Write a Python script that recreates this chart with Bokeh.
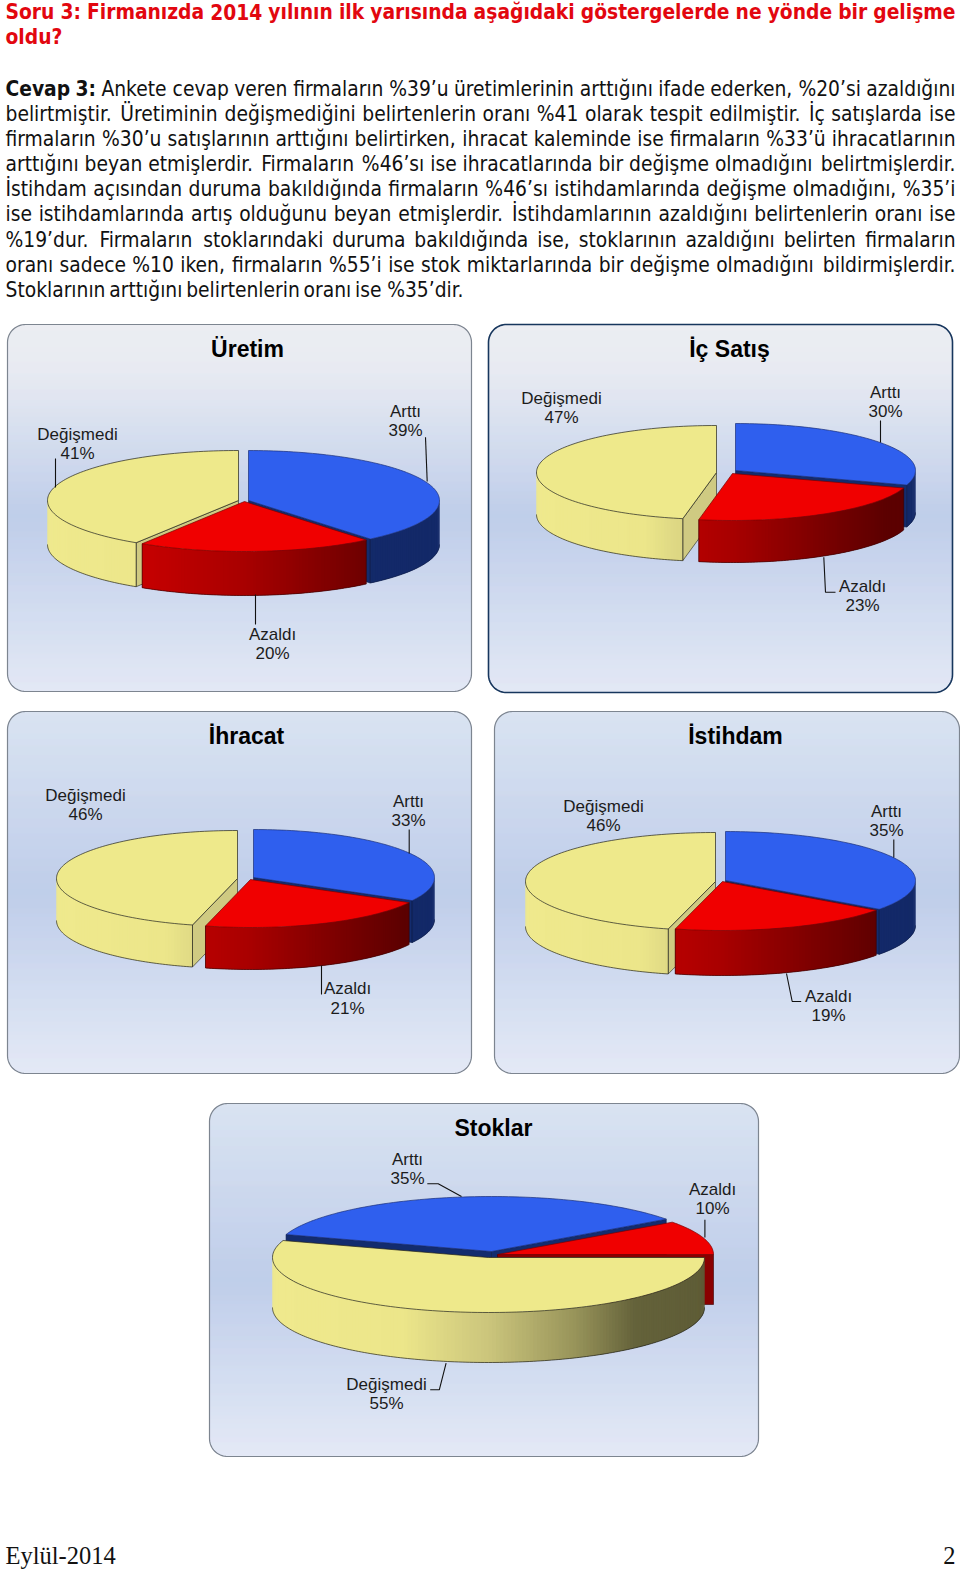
import math
from bokeh.plotting import figure
from bokeh.models import Range1d
from bokeh.core.properties import value
from bokeh.embed import file_html
from bokeh.resources import INLINE

# ---------- DATA ----------
categories = ["Arttı", "Azaldı", "Değişmedi"]
titles = ["Üretim", "İç Satış", "İhracat", "İstihdam", "Stoklar"]
uretim_values = [39, 20, 41]
ic_satis_values = [30, 23, 47]
ihracat_values = [33, 21, 46]
istihdam_values = [35, 19, 46]
stoklar_values = [35, 10, 55]
series_values = [uretim_values, ic_satis_values, ihracat_values, istihdam_values, stoklar_values]

heading_lines = [
    "Soru 3: Firmanızda 2014 yılının ilk yarısında aşağıdaki göstergelerde ne yönde bir gelişme",
    "oldu?",
]
body_lines = [
    "Cevap 3: Ankete cevap veren firmaların %39’u üretimlerinin arttığını ifade ederken, %20’si azaldığını",
    "belirtmiştir. Üretiminin değişmediğini belirtenlerin oranı %41 olarak tespit edilmiştir. İç satışlarda ise",
    "firmaların %30’u satışlarının arttığını belirtirken, ihracat kaleminde ise firmaların %33’ü ihracatlarının",
    "arttığını beyan etmişlerdir. Firmaların %46’sı ise ihracatlarında bir değişme olmadığını belirtmişlerdir.",
    "İstihdam açısından duruma bakıldığında firmaların %46’sı istihdamlarında değişme olmadığını, %35’i",
    "ise istihdamlarında artış olduğunu beyan etmişlerdir. İstihdamlarının azaldığını belirtenlerin oranı ise",
    "%19’dur. Firmaların stoklarındaki duruma bakıldığında ise, stoklarının azaldığını belirten firmaların",
    "oranı sadece %10 iken, firmaların %55’i ise stok miktarlarında bir değişme olmadığını bildirmişlerdir.",
    "Stoklarının arttığını belirtenlerin oranı ise %35’dir.",
]
footer_left = "Eylül-2014"
footer_right = "2"

# ---------- LAYOUT ----------
# panel: x0, x1, y0, y1, border colour, border width, gradient kind
panels = [
    (7, 471, 324, 691, "#7d8590", 1.2, "A"),
    (488, 952, 324, 692, "#17365d", 1.6, "A"),
    (7, 471, 711, 1073, "#7d8590", 1.2, "B"),
    (494, 959, 711, 1073, "#7d8590", 1.2, "B"),
    (209, 758, 1103, 1456, "#7d8590", 1.2, "B"),
]
title_pos = [(247, 357), (729, 357), (246, 744), (735, 744), (493, 1136)]
# pie: rx, ry, depth, start angle; slice centres in category order
pies = [
    (191, 50, 44, 0, [(248, 500), (244, 501), (238, 500)]),
    (180, 47, 42, 0, [(735, 470), (732, 473), (716, 472)]),
    (181, 48, 42, 0, [(253, 877), (250, 879), (237, 878)]),
    (190, 49, 45, 0, [(725, 880), (722, 881), (715, 881)]),
    (216, 55, 50, 288, [(491, 1251), (497, 1254), (488, 1257)]),
]
# label centre x, first line baseline, second line baseline
label_pos = [
    [(405, 417, 436), (272, 640, 659), (77, 440, 459)],
    [(885, 398, 417), (862, 592, 611), (561, 404, 423)],
    [(408, 807, 826), (347, 994, 1014), (85, 801, 820)],
    [(886, 817, 836), (828, 1002, 1021), (603, 812, 831)],
    [(407, 1165, 1184), (712, 1195, 1214), (386, 1390, 1409)],
]
leaders = [
    [[(425, 436.7), (426.7, 481)], [(255, 594), (255, 624)], [(55, 458), (55, 487)]],
    [[(880, 420), (880, 442)], [(823.3, 556.7), (825, 591.7), (835, 591.7)]],
    [[(408.7, 829), (408.7, 853)], [(321, 965), (321, 994)]],
    [[(893.3, 839), (893.3, 857)], [(786, 973), (791.7, 1001), (800.7, 1001)]],
    [[(426.8, 1183.3), (437.7, 1183.3), (461, 1196)], [(704.4, 1219.3), (704.4, 1237)],
     [(445.6, 1362.7), (438.8, 1389.3), (429.7, 1389.3)]],
]

top_colors = ["#2f5fee", "#f00000", "#eee98b"]
top_edges = ["#1b2f78", "#7a0000", "#23231a"]
wall_edges = ["#0e1c48", "#3d0000", "#23231a"]
radial_colors = ["#132c6e", "#8a0000", "#cfca82"]
wall_stops = [
    [(-1, "#132c6e"), (1, "#132968")],
    [(-1, "#d40000"), (-.5, "#c40000"), (0, "#a80000"), (.5, "#7a0000"), (.85, "#5c0000"), (1, "#5c0000")],
    [(-1, "#efe98d"), (-.4, "#ece68a"), (0, "#cbc57c"), (.4, "#98945a"), (.68, "#64623a"), (1, "#5e5c36")],
]
grad_stops = {
    "A": [(0, "#eaecf1"), (.12, "#e6e9f1"), (.52, "#b9c9e8"), (1, "#e0e6f4")],
    "B": [(0, "#d6e0f0"), (.5, "#b9c9e8"), (1, "#e1e7f5")],
}

# ---------- HELPERS ----------
def rgb(h):
    return tuple(int(h[i:i + 2], 16) for i in (1, 3, 5))

def interp(stops, u):
    u = max(stops[0][0], min(stops[-1][0], u))
    for (a, ca), (b, cb) in zip(stops, stops[1:]):
        if a <= u <= b:
            f = (u - a) / (b - a) if b > a else 0
            A, B = rgb(ca), rgb(cb)
            return "#%02x%02x%02x" % tuple(round(A[i] + (B[i] - A[i]) * f) for i in range(3))
    return stops[-1][1]

REG = dict(zip("abcdefghijklmnopqrstuvwxyz",
    [1255,1300,1126,1300,1260,721,1300,1298,569,569,1186,569,1995,1298,1253,1300,1300,842,1067,803,1298,1212,1675,1212,1212,1075]))
BLD = dict(zip("abcdefghijklmnopqrstuvwxyz",
    [1382,1466,1214,1466,1389,891,1466,1458,702,702,1361,702,2134,1458,1407,1466,1466,1010,1219,979,1458,1335,1892,1321,1335,1192]))
REG.update({"ı": 569, "ş": 1067, "ğ": 1300, "ç": 1126, "ü": 1298, "ö": 1253, "%": 1946, "’": 651, ",": 651, ".": 651,
            ":": 690, "?": 1087, "A": 1401, "C": 1430, "F": 1178, "İ": 604, "S": 1300, "Ü": 1499})
BLD.update({"ı": 702, "ş": 1219, "ğ": 1466, "ç": 1214, "ü": 1458, "ö": 1407, "%": 2052, "’": 783, ",": 782, ".": 782,
            ":": 819, "?": 1186, "C": 1503, "F": 1399, "S": 1475})

WIDTH_K = 0.9

def em(word, bold=False):
    tab = BLD if bold else REG
    return sum(tab.get(c, 1303 if not bold else 1425) for c in word) / 2048 * WIDTH_K

LEFT, RIGHT = 5, 955
SPACE = 651 / 2048 * WIDTH_K
body_px = 20.8
BASE_SHIFT = 0.38   # the text glyph sits this many em below the asked baseline

def ty(y, size):
    return y - BASE_SHIFT * size

p = figure(width=960, height=1572, x_range=Range1d(0, 960), y_range=Range1d(1572, 0),
           x_axis_type=None, y_axis_type=None, toolbar_location=None, output_backend="svg",
           min_border=0, outline_line_color=None, background_fill_color="white",
           border_fill_color="white")
p.grid.visible = False

SANS = "DejaVu Sans Condensed"

def draw_words(xs, ys, ws, color, bold, align):
    if xs:
        p.text(x=xs, y=[ty(v, body_px) for v in ys], text=ws, text_font=value(SANS),
               text_font_size=value("%.2fpx" % body_px),
               text_font_style="bold" if bold else "normal", text_color=color,
               text_align=align, text_baseline="alphabetic")

def layout_lines(lines, baselines, color, ends, bold_first=0, bold_all=False):
    buckets = {}
    for i, (line, y, end) in enumerate(zip(lines, baselines, ends)):
        words = line.split()
        flags = [bold_all or (i == 0 and k < bold_first) for k in range(len(words))]
        widths = [em(w, f) * body_px for w, f in zip(words, flags)]
        justified = end is not None
        gap = (end - LEFT - sum(widths)) / (len(words) - 1) if justified else SPACE * body_px
        x = LEFT
        for k, (w, f, wd) in enumerate(zip(words, flags, widths)):
            last = justified and k == len(words) - 1
            key = (f, "right" if last else "left")
            b = buckets.setdefault(key, ([], [], []))
            b[0].append(end if last else x); b[1].append(y); b[2].append(w)
            x += wd + gap
    for (f, al), (xs, ys, ws) in buckets.items():
        draw_words(xs, ys, ws, color, f, al)

layout_lines(heading_lines, [19.5, 44.5], "#e2070f", [RIGHT, None], bold_all=True)
layout_lines(body_lines, [96, 121, 146.3, 171.7, 196.7, 221.7, 247.3, 272.7, 297.7], "#111111",
             [RIGHT] * 8 + [463], bold_first=2)

def panel(x0, x1, y0, y1, col, lw, kind, r=18):
    L, R, T, B, C = [], [], [], [], []
    h = y1 - y0
    for y in range(y0, y1):
        d = min(y + .5 - y0, y1 - y - .5)
        ins = r - math.sqrt(max(r * r - (r - d) ** 2, 0)) if d < r else 0
        L.append(x0 + ins); R.append(x1 - ins); T.append(y); B.append(y + 1)
        C.append(interp(grad_stops[kind], (y - y0) / h))
    p.quad(left=L, right=R, top=T, bottom=B, fill_color=C, line_color=C, line_width=.4)
    xs, ys = [], []
    for cx, cy, a0 in ((x1 - r, y0 + r, -90), (x1 - r, y1 - r, 0), (x0 + r, y1 - r, 90), (x0 + r, y0 + r, 180)):
        for k in range(0, 19):
            a = math.radians(a0 + k * 5)
            xs.append(cx + r * math.cos(a)); ys.append(cy + r * math.sin(a))
    xs.append(xs[0]); ys.append(ys[0])
    p.line(xs, ys, line_color=col, line_width=lw)

def draw_pie(vals, spec):
    rx, ry, dep, start, centres = spec
    t = start
    slices = []
    for i, v in enumerate(vals):
        sweep = v * 3.6
        slices.append((i, t, t + sweep, centres[i]))
        t += sweep
    def pt(c, a, drop=0):
        a = math.radians(a)
        return c[0] + rx * math.sin(a), c[1] - ry * math.cos(a) + drop
    def maxy(s):
        i, a, b, c = s
        pts = [pt(c, a + (b - a) * k / 60)[1] for k in range(61)] + [c[1]]
        return max(pts)
    for i, a, b, c in sorted(slices, key=maxy):
        edge = wall_edges[i]
        # radial walls
        xs_r, ys_r = [], []
        for ang in (a, b):
            x, y = pt(c, ang)
            face = (ang == b and math.sin(math.radians(ang)) > 0.02) or (ang == a and math.sin(math.radians(ang)) < -0.02)
            if face:
                xs_r.append([c[0], x, x, c[0]]); ys_r.append([c[1], y, y + dep, c[1] + dep])
        if xs_r:
            p.patches(xs_r, ys_r, fill_color=radial_colors[i], line_color=edge, line_width=.6)
        # outer wall (only its front-facing part); strips overlap so no seams show
        lo, hi = None, None
        for base in (0, 360):
            l, h = max(a, 90 + base), min(b, 270 + base)
            if l < h:
                lo, hi = l, h
                break
        if lo is not None:
            n = max(2, int((hi - lo) / 1.0))
            px, py, cols = [], [], []
            for k in range(n):
                a1, a2 = lo + (hi - lo) * k / n, lo + (hi - lo) * min(k + 2, n) / n
                x1, y1 = pt(c, a1); x2, y2 = pt(c, a2)
                px.append([x1, x2, x2, x1]); py.append([y1, y2, y2 + dep, y1 + dep])
                cols.append(interp(wall_stops[i], math.sin(math.radians(lo + (hi - lo) * (k + .5) / n))))
            p.patches(px, py, fill_color=cols, line_color=None)
            arc = [pt(c, lo + (hi - lo) * k / n, dep) for k in range(n + 1)]
            p.line([q[0] for q in arc], [q[1] for q in arc], line_color=edge, line_width=.7)
            for ang in (lo, hi):
                x, y = pt(c, ang)
                if abs(math.sin(math.radians(ang))) < .985:
                    p.line([x, x], [y, y + dep], line_color=edge, line_width=.7)
        # top
        n = max(8, int((b - a) / 1.5))
        arc = [pt(c, a + (b - a) * k / n) for k in range(n + 1)]
        tx = [c[0]] + [q[0] for q in arc] + [c[0]]
        ty_ = [c[1]] + [q[1] for q in arc] + [c[1]]
        p.patch(tx, ty_, fill_color=top_colors[i], line_color=top_edges[i], line_width=.7)

TXT = "#1c1c1c"
for n, (vals, spec) in enumerate(zip(series_values, pies)):
    panel(*panels[n])
    p.text(x=[title_pos[n][0]], y=[ty(title_pos[n][1], 23)], text=[titles[n]], text_font=value("Liberation Sans"),
           text_font_style="bold", text_font_size=value("23px"), text_color="#000000",
           text_align="center", text_baseline="alphabetic")
    draw_pie(vals, spec)
    for seg in leaders[n]:
        p.line([q[0] for q in seg], [q[1] for q in seg], line_color="#111111", line_width=1.1)
    xs = [q[0] for q in label_pos[n]]
    p.text(x=xs + xs, y=[ty(q[1], 17) for q in label_pos[n]] + [ty(q[2], 17) for q in label_pos[n]],
           text=categories + ["%d%%" % v for v in vals], text_font=value("Liberation Sans"),
           text_font_size=value("17px"), text_color=TXT, text_align="center", text_baseline="alphabetic")

p.text(x=[5], y=[ty(1564, 24.5)], text=[footer_left], text_font=value("Liberation Serif"), text_font_size=value("24.5px"),
       text_color="#111111", text_align="left", text_baseline="alphabetic")
p.text(x=[955], y=[ty(1564, 24.5)], text=[footer_right], text_font=value("Liberation Serif"), text_font_size=value("24.5px"),
       text_color="#111111", text_align="right", text_baseline="alphabetic")

open("out.html", "w").write(file_html(p, INLINE))
